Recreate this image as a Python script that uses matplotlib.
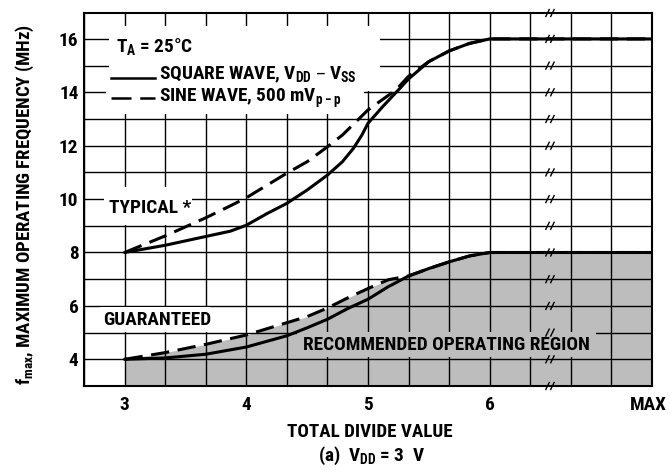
import matplotlib
matplotlib.use('Agg')
import matplotlib.pyplot as plt
from matplotlib import font_manager as fm
from matplotlib.patches import Rectangle
from matplotlib.ticker import MultipleLocator
import numpy as np

# ---- pick a condensed sans face if one is installed ----
def _is_condensed(f):
    st = f.stretch
    if isinstance(st, str):
        return st in ('condensed', 'semi-condensed', 'extra-condensed', 'ultra-condensed')
    return st < 500

pref = ['Liberation Sans Narrow', 'Roboto Condensed', 'Noto Sans', 'Open Sans',
        'DejaVu Sans', 'Lato', 'Inter']
cands = [f for f in fm.fontManager.ttflist
         if _is_condensed(f) or 'Narrow' in f.name or 'Condensed' in f.name]
cands = [f for f in cands if 'Mono' not in f.name and 'Serif' not in f.name and 'CJK' not in f.name]

def _score(f):
    try:
        w = int(f.weight)
    except Exception:
        w = 700 if 'bold' in str(f.weight) else 400
    rank = pref.index(f.name) if f.name in pref else len(pref)
    return (abs(w - 700) > 50, rank, abs(w - 700))

chosen = None
if cands:
    chosen = sorted(cands, key=_score)[0]
if chosen is not None:
    FONT = fm.FontProperties(fname=chosen.fname)
else:
    FONT = fm.FontProperties(family=['Roboto', 'Liberation Sans', 'DejaVu Sans'], weight='bold')

plt.rcParams['mathtext.default'] = 'regular'

# ---- data ----
typ_square_x = [3.0, 3.333, 3.667, 3.87, 4.0, 4.167, 4.333, 4.5, 4.667, 4.79, 4.88, 4.95, 5.0,
                5.12, 5.25, 5.333, 5.5, 5.667, 5.833, 6.0, 7.333]
typ_square_y = [8.0, 8.27, 8.6, 8.8, 9.02, 9.45, 9.84, 10.34, 10.9, 11.4, 11.9, 12.4, 12.84,
                13.46, 14.09, 14.5, 15.15, 15.55, 15.83, 16.0, 16.0]

typ_sine_x = [3.0, 3.333, 3.667, 3.87, 4.0, 4.333, 4.5, 4.667, 4.79, 5.0, 5.23, 5.333, 5.5,
              5.667, 5.833, 6.0, 7.333]
typ_sine_y = [8.0, 8.62, 9.3, 9.75, 10.05, 10.97, 11.4, 11.96, 12.4, 13.34, 14.09, 14.6, 15.15,
              15.55, 15.83, 16.0, 16.0]

gua_square_x = [3.0, 3.333, 3.667, 4.0, 4.333, 4.5, 4.667, 4.833, 5.0, 5.167, 5.333, 5.5, 5.667, 5.833, 6.0, 7.333]
gua_square_y = [4.0, 4.05, 4.19, 4.46, 4.88, 5.18, 5.5, 5.9, 6.25, 6.72, 7.12, 7.4, 7.65, 7.87, 8.0, 8.0]

gua_sine_x = [3.0, 3.333, 3.667, 4.0, 4.333, 4.5, 4.667, 4.833, 5.0, 5.167, 5.333, 5.5, 5.667, 5.833, 6.0, 7.333]
gua_sine_y = [4.0, 4.25, 4.56, 4.91, 5.37, 5.6, 5.92, 6.3, 6.65, 6.98, 7.12, 7.4, 7.65, 7.87, 8.0, 8.0]

x_tick_pos = [3, 4, 5, 6, 7.3]
x_tick_labels = ['3', '4', '5', '6', 'MAX']
y_tick_pos = [4, 6, 8, 10, 12, 14, 16]
y_tick_labels = ['4', '6', '8', '10', '12', '14', '16']

# ---- figure ----
fig = plt.figure(figsize=(6.7, 4.72), dpi=100)

def fitted_size(s, target_px, maxsize):
    t = fig.text(0, 0, s, fontproperties=FONT, fontsize=10)
    fig.canvas.draw()
    w = t.get_window_extent().width
    t.remove()
    return min(maxsize, 10 * target_px / w)

fs = fitted_size('RECOMMENDED OPERATING REGION', 285, 15.5)
fs_y = fitted_size(r'f$_{max}$, MAXIMUM OPERATING FREQUENCY (MHz)', 368, 13.5)
fs_x = fitted_size('TOTAL DIVIDE VALUE', 165, 14)

def P(size):
    p = FONT.copy()
    p.set_size(size)
    return p

ax = fig.add_axes([84 / 670, 86 / 472, 568 / 670, 373 / 472])
ax.set_xlim(8 / 3, 22 / 3)
ax.set_ylim(3, 16.97)
ymin, ymax = ax.get_ylim()

# shaded recommended region
ax.fill_between(gua_sine_x, ymin, gua_sine_y, color='#bdbdbd', lw=0, zorder=1)

# grid and ticks
ax.set_xticks(x_tick_pos)
ax.set_xticklabels(x_tick_labels)
ax.set_yticks(y_tick_pos)
ax.set_yticklabels(y_tick_labels)
for lab in ax.get_xticklabels() + ax.get_yticklabels():
    lab.set_fontproperties(P(fs))
ax.xaxis.set_minor_locator(MultipleLocator(1 / 3))
ax.yaxis.set_minor_locator(MultipleLocator(1))
ax.xaxis.remove_overlapping_locs = False
ax.yaxis.remove_overlapping_locs = False
ax.set_axisbelow('line')
ax.grid(which='minor', color='black', lw=1.0)
ax.tick_params(which='both', length=0)
ax.tick_params(axis='x', pad=7)
ax.tick_params(axis='y', pad=4)
for s in ax.spines.values():
    s.set_linewidth(1.5)

# masks behind labels (hide grid)
def mask(x0, x1, y0, y1, color='white'):
    ax.add_patch(Rectangle((x0, y0), x1 - x0, y1 - y0, facecolor=color,
                           edgecolor='none', zorder=2))

mask(2.87, 5.1, 14.05, 16.5)
mask(2.85, 4.97, 13.19, 14.06)
mask(2.83, 3.55, 9.04, 10.45)
mask(2.80, 3.70, 5.04, 5.96)
mask(4.42, 6.87, 4.07, 5.04, color='#bdbdbd')

# curves
ax.plot(typ_square_x, typ_square_y, color='black', lw=2.2, zorder=4,
        solid_capstyle='round', solid_joinstyle='round')
ax.plot(typ_sine_x, typ_sine_y, color='black', lw=2.2, zorder=4, dashes=(6, 2.8))
ax.plot(gua_square_x, gua_square_y, color='black', lw=2.2, zorder=4,
        solid_capstyle='round', solid_joinstyle='round')
ax.plot(gua_sine_x, gua_sine_y, color='black', lw=2.2, zorder=4, dashes=(6, 2.8))

# axis break marks
for yv in list(np.arange(3, 17)) + [ymax]:
    for xc in (6.475, 6.515):
        ax.plot([xc - 0.014, xc + 0.014], [yv - 0.13, yv + 0.13], color='black',
                lw=1.0, zorder=5, clip_on=False)

# legend block
ax.text(2.93, 15.7, r'T$_{A}$ = 25°C', fontproperties=P(fs), va='center', ha='left', zorder=6)
ax.plot([2.89, 3.25], [14.55, 14.55], color='black', lw=1.8, zorder=6)
ax.text(3.28, 14.64, r'SQUARE WAVE, V$_{DD}$ – V$_{SS}$', fontproperties=P(fs), va='center', ha='left', zorder=6)
ax.plot([2.89, 3.25], [13.8, 13.8], color='black', lw=1.8, zorder=6, dashes=(8, 3.5))
ax.text(3.28, 13.78, r'SINE WAVE, 500 mV$_{p-p}$', fontproperties=P(fs), va='center', ha='left', zorder=6)

ax.text(2.87, 9.66, 'TYPICAL *', fontproperties=P(fs), va='center', ha='left', zorder=6)
ax.text(2.82, 5.48, 'GUARANTEED', fontproperties=P(fs), va='center', ha='left', zorder=6)
ax.text(4.47, 4.54, 'RECOMMENDED OPERATING REGION', fontproperties=P(fs), va='center', ha='left', zorder=6)

# axis labels
fig.text(25 / 670, 1 - 205 / 472, r'f$_{max}$, MAXIMUM OPERATING FREQUENCY (MHz)',
         rotation=90, ha='center', va='center', fontproperties=P(fs_y))
fig.text(370 / 670, 1 - 432 / 472, 'TOTAL DIVIDE VALUE', ha='center', va='center', fontproperties=P(fs_x))
fig.text(372 / 670, 1 - 456 / 472, r'(a)  V$_{DD}$ = 3  V', ha='center', va='center', fontproperties=P(fs))

fig.savefig('out.png', dpi=100)
